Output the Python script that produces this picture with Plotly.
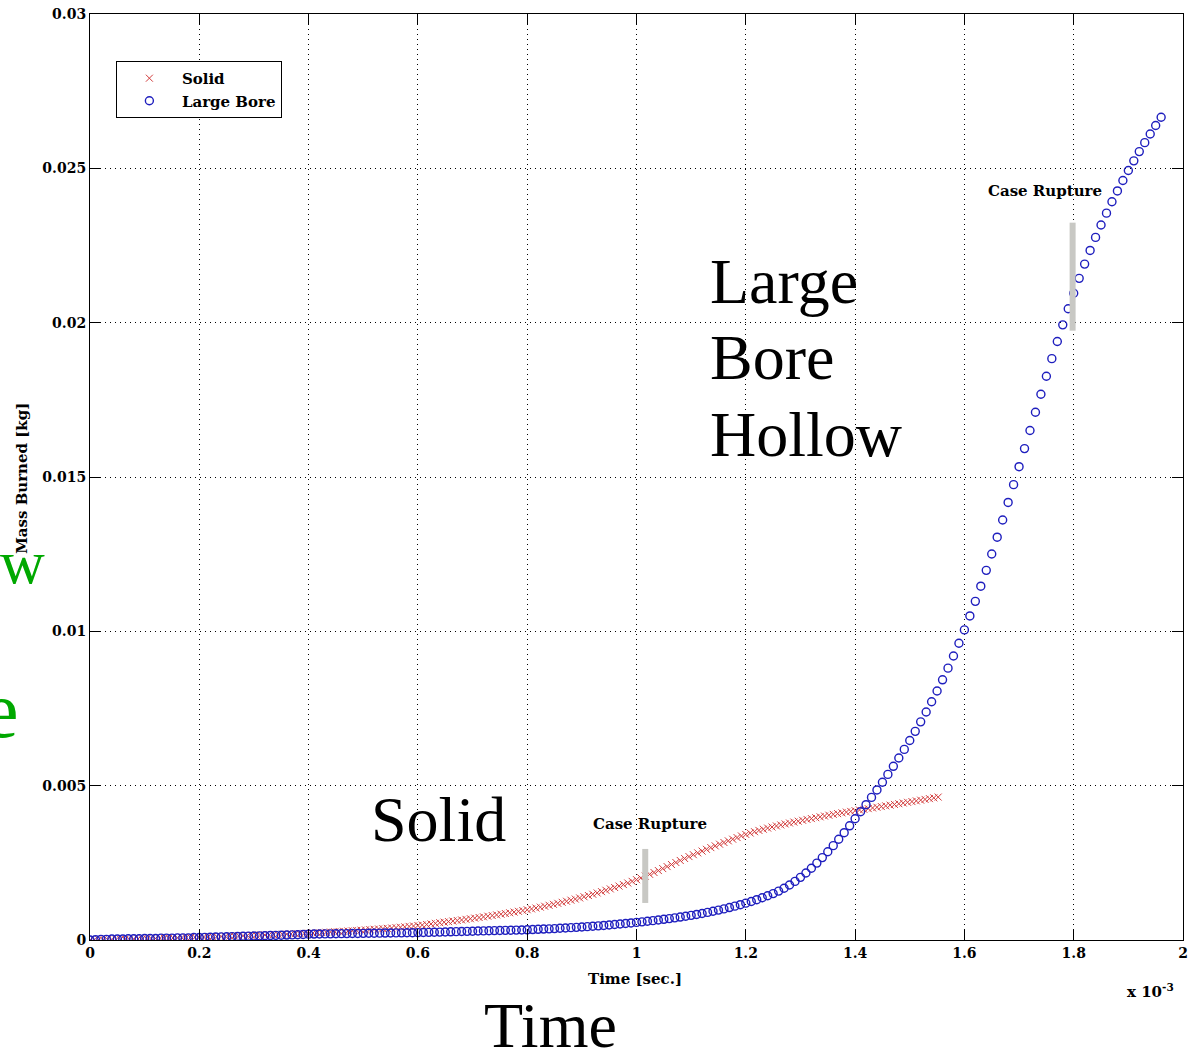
import plotly.graph_objects as go

# ---------------- data (time in x10^-3 s, mass read in grams) ----------------
solid_dt = 0.008   # sample interval of the Solid series (x10^-3 s)
large_dt = 0.010   # sample interval of the Large Bore series (x10^-3 s)

solid_mass_g = [
    0.000, 0.003, 0.006, 0.009, 0.012, 0.015, 0.018, 0.021, 0.024, 0.027, 0.030,
    0.034, 0.038, 0.042, 0.046, 0.050, 0.054, 0.058, 0.062, 0.066, 0.070,
    0.074, 0.079, 0.083, 0.088, 0.092, 0.097, 0.101, 0.106, 0.110, 0.115,
    0.120, 0.125, 0.130, 0.135, 0.140, 0.145, 0.150, 0.155, 0.160, 0.165,
    0.170, 0.176, 0.181, 0.187, 0.192, 0.198, 0.203, 0.209, 0.214, 0.220,
    0.227, 0.234, 0.242, 0.250, 0.258, 0.266, 0.274, 0.283, 0.291, 0.300,
    0.309, 0.318, 0.327, 0.337, 0.347, 0.357, 0.367, 0.378, 0.389, 0.400,
    0.413, 0.426, 0.440, 0.454, 0.469, 0.485, 0.502, 0.520, 0.540, 0.560,
    0.578, 0.596, 0.614, 0.632, 0.650, 0.669, 0.689, 0.709, 0.729, 0.750,
    0.771, 0.792, 0.814, 0.836, 0.858, 0.881, 0.905, 0.929, 0.954, 0.980,
    1.007, 1.035, 1.064, 1.094, 1.125, 1.156, 1.188, 1.221, 1.255, 1.290,
    1.326, 1.363, 1.401, 1.441, 1.482, 1.524, 1.567, 1.611, 1.655, 1.700,
    1.747, 1.796, 1.847, 1.900, 1.955, 2.011, 2.068, 2.127, 2.187, 2.250,
    2.314, 2.379, 2.445, 2.511, 2.577, 2.641, 2.703, 2.764, 2.823, 2.880,
    2.937, 2.993, 3.049, 3.104, 3.159, 3.213, 3.266, 3.319, 3.371, 3.420,
    3.466, 3.509, 3.550, 3.589, 3.626, 3.661, 3.695, 3.728, 3.760, 3.790,
    3.820, 3.849, 3.878, 3.906, 3.934, 3.962, 3.989, 4.016, 4.043, 4.070,
    4.095, 4.119, 4.143, 4.166, 4.189, 4.212, 4.234, 4.256, 4.278, 4.300,
    4.323, 4.346, 4.369, 4.392, 4.415, 4.438, 4.461, 4.484, 4.507, 4.530,
    4.555, 4.580, 4.605, 4.630,
]

large_mass_g = [
    0.000, 0.010, 0.020, 0.020, 0.030, 0.030, 0.030, 0.040, 0.040, 0.040, 0.050,
    0.050, 0.050, 0.060, 0.060, 0.060, 0.070, 0.070, 0.070, 0.080, 0.080,
    0.085, 0.090, 0.095, 0.100, 0.105, 0.110, 0.115, 0.120, 0.125, 0.130,
    0.135, 0.140, 0.145, 0.150, 0.155, 0.160, 0.165, 0.170, 0.180, 0.190,
    0.192, 0.195, 0.197, 0.200, 0.202, 0.205, 0.207, 0.210, 0.212, 0.215,
    0.217, 0.220, 0.222, 0.225, 0.227, 0.230, 0.232, 0.235, 0.237, 0.240,
    0.244, 0.248, 0.252, 0.256, 0.260, 0.265, 0.270, 0.275, 0.280, 0.285,
    0.290, 0.295, 0.300, 0.304, 0.308, 0.312, 0.316, 0.320, 0.325, 0.330,
    0.338, 0.346, 0.354, 0.362, 0.370, 0.380, 0.390, 0.400, 0.410, 0.420,
    0.433, 0.446, 0.459, 0.472, 0.485, 0.502, 0.519, 0.536, 0.553, 0.570,
    0.588, 0.607, 0.627, 0.648, 0.670, 0.693, 0.717, 0.743, 0.770, 0.798,
    0.828, 0.860, 0.894, 0.930, 0.968, 1.008, 1.051, 1.096, 1.144, 1.194,
    1.248, 1.306, 1.368, 1.434, 1.504, 1.584, 1.676, 1.781, 1.899, 2.029,
    2.171, 2.325, 2.491, 2.669, 2.859, 3.057, 3.263, 3.477, 3.699, 3.929,
    4.154, 4.384, 4.620, 4.862, 5.110, 5.365, 5.627, 5.897, 6.175, 6.462,
    6.759, 7.067, 7.387, 7.720, 8.067, 8.429, 8.807, 9.202, 9.615, 10.047,
    10.499, 10.971, 11.463, 11.975, 12.505, 13.050, 13.608, 14.176, 14.752, 15.334,
    15.920, 16.508, 17.096, 17.682, 18.264, 18.834, 19.390, 19.930, 20.452, 20.954,
    21.436, 21.898, 22.340, 22.762, 23.164, 23.548, 23.916, 24.268, 24.606, 24.930,
    25.242, 25.542, 25.832, 26.114, 26.388, 26.656,
]

series_names = ["Solid", "Large Bore"]

x_tickvals = [0, 0.2, 0.4, 0.6, 0.8, 1.0, 1.2, 1.4, 1.6, 1.8, 2.0]
x_ticktext = ["0", "0.2", "0.4", "0.6", "0.8", "1", "1.2", "1.4", "1.6", "1.8", "2"]
y_tickvals = [0, 0.005, 0.01, 0.015, 0.02, 0.025, 0.03]
y_ticktext = ["0", "0.005", "0.01", "0.015", "0.02", "0.025", "0.03"]

# case rupture markers: (time, low kg, high kg, label position time, label kg)
rupture_solid = (1.016, 0.0012, 0.00295, 1.025, 0.00375)
rupture_large = (1.798, 0.01974, 0.02324, 1.747, 0.02427)

# ---------------- derived ----------------
solid_t = [round(i * solid_dt, 4) for i in range(len(solid_mass_g))]
large_t = [round(i * large_dt, 4) for i in range(len(large_mass_g))]
solid_kg = [g / 1000.0 for g in solid_mass_g]
large_kg = [g / 1000.0 for g in large_mass_g]

TICK = dict(family="DejaVu Serif", size=14, color="black", weight="bold")
SMALL = dict(family="DejaVu Serif", size=15, color="black", weight="bold")
BIG = dict(family="Liberation Serif", size=64, color="black")
GREEN = "#00a800"

fig = go.Figure()
fig.add_trace(go.Scatter(
    x=solid_t, y=solid_kg, mode="markers", name=series_names[0],
    marker=dict(symbol="x-thin", size=7, color="rgb(210,60,60)",
                line=dict(width=1, color="rgb(210,60,60)")),
))
fig.add_trace(go.Scatter(
    x=large_t, y=large_kg, mode="markers", name=series_names[1],
    marker=dict(symbol="circle-open", size=8, color="rgb(30,30,190)",
                line=dict(width=1.4, color="rgb(30,30,190)")),
))

axis_common = dict(
    showline=True, linecolor="black", linewidth=1, mirror="ticks",
    ticks="inside", ticklen=11, tickcolor="black", tickwidth=1,
    showgrid=True, gridcolor="black", gridwidth=1, griddash="1px,4px",
    zeroline=False, tickfont=TICK,
)
fig.update_xaxes(range=[0, 2], tickvals=x_tickvals, ticktext=x_ticktext, **axis_common)
fig.update_yaxes(range=[0, 0.03], tickvals=y_tickvals, ticktext=y_ticktext, **axis_common)

W, H = 1194, 1055
L, R, T, B = 90, 6, 13, 115
pw, ph = W - L - R, H - T - B


def px(xp):
    return (xp - L) / pw


def py(yp):
    return (H - B - yp) / ph


for (t, y0, y1, lt, ly) in (rupture_solid, rupture_large):
    fig.add_shape(type="line", xref="x", yref="y", x0=t, x1=t, y0=y0, y1=y1,
                  line=dict(color="rgb(200,200,196)", width=6), layer="above")
    fig.add_annotation(x=lt, y=ly, xref="x", yref="y", text="Case Rupture",
                       showarrow=False, font=SMALL, xanchor="center", yanchor="middle")

annotations = [
    dict(x=px(22), y=py(478), text="Mass Burned [kg]", textangle=-90, font=SMALL),
    dict(x=px(637), y=py(979), text="Time [sec.]", font=SMALL),
    dict(x=px(1181), y=py(991), text="x 10<sup>-3</sup>", font=SMALL, xanchor="right"),
    dict(x=px(711), y=py(281), text="Large", font=BIG, xanchor="left"),
    dict(x=px(711), y=py(357), text="Bore", font=BIG, xanchor="left"),
    dict(x=px(711), y=py(434), text="Hollow", font=BIG, xanchor="left"),
    dict(x=px(440), y=py(819), text="Solid", font=BIG),
    dict(x=px(553), y=py(1026), text="Time", font=BIG),
    dict(x=px(22), y=py(562), text="w", font=dict(family="Liberation Serif", size=62, color=GREEN)),
    dict(x=px(1), y=py(710), text="e", font=dict(family="Liberation Serif", size=80, color=GREEN)),
]
for a in annotations:
    a.setdefault("xref", "paper")
    a.setdefault("yref", "paper")
    a.setdefault("showarrow", False)
    a.setdefault("xanchor", "center")
    a.setdefault("yanchor", "middle")
    fig.add_annotation(**a)

fig.update_layout(
    width=W, height=H,
    margin=dict(l=L, r=R, t=T, b=B),
    plot_bgcolor="white", paper_bgcolor="white",
    showlegend=True,
    legend=dict(x=px(116), y=py(60), xanchor="left", yanchor="top",
                bgcolor="white", bordercolor="black", borderwidth=1,
                font=SMALL, tracegroupgap=0, itemwidth=55),
)

fig.write_html("out.html")
